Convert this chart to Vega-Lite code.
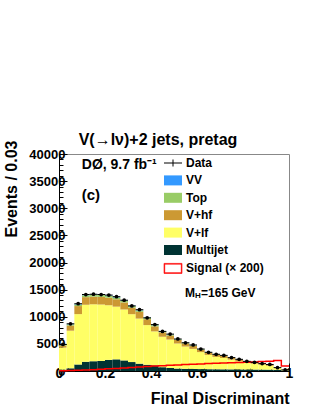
{
  "$schema": "https://vega.github.io/schema/vega-lite/v6.json",
  "width": 230,
  "height": 217,
  "autosize": {"type": "none"},
  "padding": {"left": 59, "top": 154, "right": 27, "bottom": 38},
  "background": "white",
  "config": {"font": "Liberation Sans", "view": {"stroke": "#888888", "strokeWidth": 1}},
  "title": {"text": "V(→lν)+2 jets, pretag", "fontSize": 16, "fontWeight": "bold", "font": "Liberation Sans, DejaVu Sans", "anchor": "middle", "dx": -16, "dy": 13, "offset": 5, "color": "black"},
  "data": {"values": [
    {"lo": 0, "hi": 0.0333, "c": 0.0167, "data": 4900, "sig": 40, "Multijet": 250, "V+lf": 4062, "V+hf": 388, "Top": 121, "VV": 29},
    {"lo": 0.0333, "hi": 0.0667, "c": 0.05, "data": 8700, "sig": 80, "Multijet": 500, "V+lf": 6930, "V+hf": 952, "Top": 216, "VV": 52},
    {"lo": 0.0667, "hi": 0.1, "c": 0.0833, "data": 12400, "sig": 130, "Multijet": 1200, "V+lf": 9285, "V+hf": 1482, "Top": 309, "VV": 74},
    {"lo": 0.1, "hi": 0.1333, "c": 0.1167, "data": 14100, "sig": 190, "Multijet": 1700, "V+lf": 10510, "V+hf": 1405, "Top": 351, "VV": 84},
    {"lo": 0.1333, "hi": 0.1667, "c": 0.15, "data": 14150, "sig": 250, "Multijet": 1800, "V+lf": 10496, "V+hf": 1415, "Top": 354, "VV": 85},
    {"lo": 0.1667, "hi": 0.2, "c": 0.1833, "data": 14100, "sig": 320, "Multijet": 1850, "V+lf": 10402, "V+hf": 1410, "Top": 353, "VV": 85},
    {"lo": 0.2, "hi": 0.2333, "c": 0.2167, "data": 14000, "sig": 400, "Multijet": 2050, "V+lf": 10072, "V+hf": 1395, "Top": 349, "VV": 84},
    {"lo": 0.2333, "hi": 0.2667, "c": 0.25, "data": 13700, "sig": 480, "Multijet": 2150, "V+lf": 9712, "V+hf": 1365, "Top": 341, "VV": 82},
    {"lo": 0.2667, "hi": 0.3, "c": 0.2833, "data": 13050, "sig": 560, "Multijet": 1950, "V+lf": 9391, "V+hf": 1305, "Top": 326, "VV": 78},
    {"lo": 0.3, "hi": 0.3333, "c": 0.3167, "data": 12000, "sig": 650, "Multijet": 1650, "V+lf": 8822, "V+hf": 1205, "Top": 301, "VV": 72},
    {"lo": 0.3333, "hi": 0.3667, "c": 0.35, "data": 11300, "sig": 740, "Multijet": 1350, "V+lf": 8313, "V+hf": 1238, "Top": 281, "VV": 68},
    {"lo": 0.3667, "hi": 0.4, "c": 0.3833, "data": 9800, "sig": 820, "Multijet": 1150, "V+lf": 7311, "V+hf": 1084, "Top": 246, "VV": 59},
    {"lo": 0.4, "hi": 0.4333, "c": 0.4167, "data": 8550, "sig": 900, "Multijet": 1050, "V+lf": 6251, "V+hf": 935, "Top": 213, "VV": 51},
    {"lo": 0.4333, "hi": 0.4667, "c": 0.45, "data": 7300, "sig": 970, "Multijet": 700, "V+lf": 5613, "V+hf": 809, "Top": 184, "VV": 44},
    {"lo": 0.4667, "hi": 0.5, "c": 0.4833, "data": 6800, "sig": 1040, "Multijet": 550, "V+lf": 5247, "V+hf": 743, "Top": 169, "VV": 41},
    {"lo": 0.5, "hi": 0.5333, "c": 0.5167, "data": 5900, "sig": 1110, "Multijet": 450, "V+lf": 4618, "V+hf": 649, "Top": 148, "VV": 35},
    {"lo": 0.5333, "hi": 0.5667, "c": 0.55, "data": 5200, "sig": 1180, "Multijet": 400, "V+lf": 4109, "V+hf": 578, "Top": 131, "VV": 32},
    {"lo": 0.5667, "hi": 0.6, "c": 0.5833, "data": 4800, "sig": 1250, "Multijet": 380, "V+lf": 3699, "V+hf": 523, "Top": 119, "VV": 29},
    {"lo": 0.6, "hi": 0.6333, "c": 0.6167, "data": 4050, "sig": 1310, "Multijet": 350, "V+lf": 3129, "V+hf": 446, "Top": 101, "VV": 24},
    {"lo": 0.6333, "hi": 0.6667, "c": 0.65, "data": 3450, "sig": 1370, "Multijet": 330, "V+lf": 2633, "V+hf": 380, "Top": 86, "VV": 21},
    {"lo": 0.6667, "hi": 0.7, "c": 0.6833, "data": 3080, "sig": 1420, "Multijet": 320, "V+lf": 2280, "V+hf": 403, "Top": 78, "VV": 19},
    {"lo": 0.7, "hi": 0.7333, "c": 0.7167, "data": 2880, "sig": 1460, "Multijet": 310, "V+lf": 2081, "V+hf": 371, "Top": 71, "VV": 17},
    {"lo": 0.7333, "hi": 0.7667, "c": 0.75, "data": 2470, "sig": 1500, "Multijet": 300, "V+lf": 1797, "V+hf": 325, "Top": 63, "VV": 15},
    {"lo": 0.7667, "hi": 0.8, "c": 0.7833, "data": 2150, "sig": 1550, "Multijet": 290, "V+lf": 1513, "V+hf": 280, "Top": 54, "VV": 13},
    {"lo": 0.8, "hi": 0.8333, "c": 0.8167, "data": 1780, "sig": 1600, "Multijet": 280, "V+lf": 1230, "V+hf": 234, "Top": 45, "VV": 11},
    {"lo": 0.8333, "hi": 0.8667, "c": 0.85, "data": 1600, "sig": 1680, "Multijet": 270, "V+lf": 1072, "V+hf": 208, "Top": 40, "VV": 10},
    {"lo": 0.8667, "hi": 0.9, "c": 0.8833, "data": 1370, "sig": 1740, "Multijet": 260, "V+lf": 898, "V+hf": 179, "Top": 35, "VV": 8},
    {"lo": 0.9, "hi": 0.9333, "c": 0.9167, "data": 1200, "sig": 1800, "Multijet": 250, "V+lf": 714, "V+hf": 150, "Top": 29, "VV": 7},
    {"lo": 0.9333, "hi": 0.9667, "c": 0.95, "data": 620, "sig": 1940, "Multijet": 200, "V+lf": 345, "V+hf": 85, "Top": 16, "VV": 4},
    {"lo": 0.9667, "hi": 1, "c": 0.9833, "data": 200, "sig": 920, "Multijet": 100, "V+lf": 84, "V+hf": 29, "Top": 6, "VV": 1}
  ]},
  "resolve": {"axis": {"x": "independent", "y": "independent"}},
  "layer": [
    {
      "transform": [
        {"fold": ["Multijet", "V+lf", "V+hf", "Top", "VV"], "as": ["comp", "val"]},
        {"lookup": "comp", "from": {"data": {"values": [{"comp": "Multijet", "rank": 1}, {"comp": "V+lf", "rank": 2}, {"comp": "V+hf", "rank": 3}, {"comp": "Top", "rank": 4}, {"comp": "VV", "rank": 5}]}, "key": "comp", "fields": ["rank"]}},
        {"stack": "val", "groupby": ["lo"], "offset": "zero", "sort": [{"field": "rank", "order": "ascending"}], "as": ["v0", "v1"]}
      ],
      "mark": {"type": "rect"},
      "encoding": {
        "x": {"field": "lo", "type": "quantitative", "scale": {"domain": [0, 1], "nice": false, "zero": false},
          "axis": {"values": [0, 0.2, 0.4, 0.6, 0.8, 1], "format": "~g", "grid": false, "tickSize": -8, "tickColor": "black", "domainColor": "black", "labelColor": "black", "labelFontSize": 14, "labelFontWeight": "bold", "labelPadding": 3, "labelFlush": false, "labelOverlap": false,
            "title": "Final Discriminant", "titleFontSize": 16, "titleFontWeight": "bold", "titleColor": "black", "titleAlign": "right", "titleAnchor": "end", "titleX": 230, "titleY": 32, "titleBaseline": "alphabetic"}},
        "x2": {"field": "hi"},
        "y": {"field": "v0", "type": "quantitative", "scale": {"domain": [0, 40000], "nice": false},
          "axis": {"values": [0, 5000, 10000, 15000, 20000, 25000, 30000, 35000, 40000], "format": "d", "grid": false, "tickSize": -8, "tickColor": "black", "domainColor": "black", "labelColor": "black", "labelFontSize": 13, "labelFontWeight": "bold", "labelPadding": 2, "labelOverlap": false, "labelFlush": false,
            "title": "Events / 0.03", "titleFontSize": 16, "titleFontWeight": "bold", "titleColor": "black", "titleAngle": -90, "titleAlign": "right", "titleBaseline": "alphabetic", "titleX": -43, "titleY": -14}},
        "y2": {"field": "v1"},
        "color": {"field": "comp", "type": "nominal",
          "scale": {"domain": ["Data", "VV", "Top", "V+hf", "V+lf", "Multijet", "Signal (× 200)"], "range": ["#000000", "#3399ff", "#99cc66", "#cc9933", "#ffff66", "#003333", "#ff0000"]},
          "legend": {"orient": "none", "legendX": 108, "legendY": 3, "title": null, "symbolSize": 100, "symbolType": "square", "labelFontSize": 12, "labelFontWeight": "bold", "labelColor": "black", "rowPadding": 5.4, "labelOffset": 7,
            "encode": {"symbols": {"update": {
              "shape": {"signal": "datum.index === 0 ? 'M-1.8,0H1.8M0,-0.7V0.7' : (datum.index === 6 ? 'M-1.8,-1H1.8V1H-1.8Z M-1.65,-0.85V0.85H1.65V-0.85Z' : 'M-1.8,-1H1.8V1H-1.8Z')"},
              "stroke": {"signal": "datum.index === 0 ? '#000000' : (datum.index === 6 ? '#ff0000' : 'transparent')"},
              "strokeWidth": {"signal": "datum.index === 0 ? 1 : (datum.index === 6 ? 0.6 : 0)"},
              "opacity": {"value": 1},
              "fillOpacity": {"value": 1},
              "strokeOpacity": {"value": 1}
            }}}}}
      }
    },
    {
      "transform": [{"fold": ["lo", "hi"], "as": ["edge", "xe"]}],
      "mark": {"type": "line", "strokeWidth": 1.5, "color": "#ff0000"},
      "encoding": {
        "x": {"field": "xe", "type": "quantitative", "axis": null},
        "y": {"field": "sig", "type": "quantitative", "axis": null},
        "order": [{"field": "xe", "type": "quantitative"}, {"field": "edge", "type": "nominal"}]
      }
    },
    {
      "mark": {"type": "rule", "color": "black", "strokeWidth": 1},
      "encoding": {
        "x": {"field": "lo", "type": "quantitative",
          "axis": {"values": [0.04, 0.08, 0.12, 0.16, 0.24, 0.28, 0.32, 0.36, 0.44, 0.48, 0.52, 0.56, 0.64, 0.68, 0.72, 0.76, 0.84, 0.88, 0.92, 0.96], "labels": false, "domain": false, "grid": false, "title": null, "tickSize": -4, "tickColor": "black", "orient": "bottom"}},
        "x2": {"field": "hi"},
        "y": {"field": "data", "type": "quantitative",
          "axis": {"values": [1000, 2000, 3000, 4000, 6000, 7000, 8000, 9000, 11000, 12000, 13000, 14000, 16000, 17000, 18000, 19000, 21000, 22000, 23000, 24000, 26000, 27000, 28000, 29000, 31000, 32000, 33000, 34000, 36000, 37000, 38000, 39000], "labels": false, "domain": false, "grid": false, "title": null, "tickSize": -4, "tickColor": "black", "orient": "left"}}
      }
    },
    {
      "mark": {"type": "circle", "size": 14, "opacity": 1, "color": "black"},
      "encoding": {
        "x": {"field": "c", "type": "quantitative", "axis": null},
        "y": {"field": "data", "type": "quantitative", "axis": null}
      }
    },
    {
      "data": {"values": [{}]},
      "mark": {"type": "text", "text": "DØ, 9.7 fb⁻¹", "fontSize": 14, "fontWeight": "bold", "align": "left", "baseline": "middle", "color": "black"},
      "encoding": {"x": {"datum": 0.099, "type": "quantitative", "axis": null}, "y": {"datum": 37970, "type": "quantitative", "axis": null}}
    },
    {
      "data": {"values": [{}]},
      "mark": {"type": "text", "text": "(c)", "fontSize": 15, "fontWeight": "bold", "align": "left", "baseline": "middle", "color": "black"},
      "encoding": {"x": {"datum": 0.099, "type": "quantitative", "axis": null}, "y": {"datum": 32430, "type": "quantitative", "axis": null}}
    },
    {
      "data": {"values": [{}]},
      "mark": {"type": "text", "text": "M", "fontSize": 12, "fontWeight": "bold", "align": "left", "baseline": "middle", "color": "black"},
      "encoding": {"x": {"datum": 0.548, "type": "quantitative", "axis": null}, "y": {"datum": 14380, "type": "quantitative", "axis": null}}
    },
    {
      "data": {"values": [{}]},
      "mark": {"type": "text", "text": "H", "fontSize": 8, "fontWeight": "bold", "align": "left", "baseline": "middle", "color": "black", "dx": 10, "dy": 3},
      "encoding": {"x": {"datum": 0.548, "type": "quantitative", "axis": null}, "y": {"datum": 14380, "type": "quantitative", "axis": null}}
    },
    {
      "data": {"values": [{}]},
      "mark": {"type": "text", "text": "=165 GeV", "fontSize": 12, "fontWeight": "bold", "align": "left", "baseline": "middle", "color": "black", "dx": 16},
      "encoding": {"x": {"datum": 0.548, "type": "quantitative", "axis": null}, "y": {"datum": 14380, "type": "quantitative", "axis": null}}
    }
  ]
}
